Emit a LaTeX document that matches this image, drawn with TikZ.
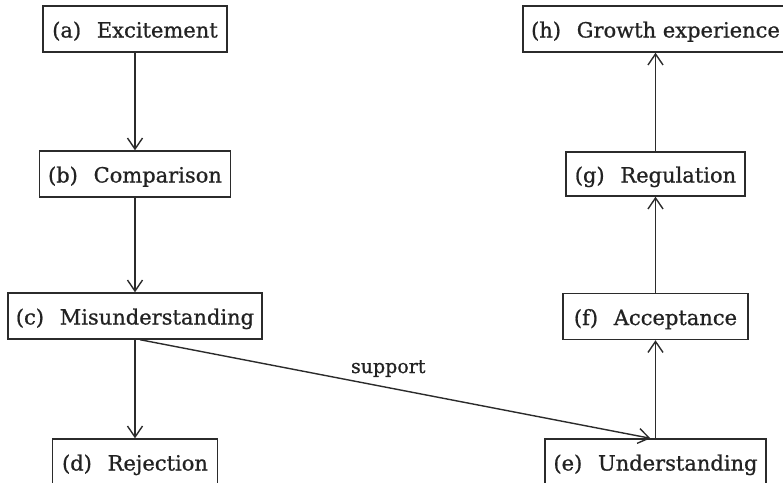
\documentclass[tikz,border=0pt]{standalone}
\usepackage{fontspec}
\setmainfont{DejaVu Serif}[BoldFont={DejaVu Serif}, BoldFeatures={FakeBold=0.8}]
\usetikzlibrary{arrows.meta}
\definecolor{linec}{HTML}{2B2B2B}
\definecolor{textc}{HTML}{222222}
\newcommand{\lab}[2]{(#1)\hspace{0.75em}#2}
\begin{document}
\begin{tikzpicture}[x=1pt,y=-1pt,
  box/.style={draw=linec, line width=1.4pt, minimum height=46pt, inner sep=0pt,
    text height=17pt, text depth=0pt, text=textc,
    font=\fontsize{21}{24}\selectfont\bfseries},
  arr/.style={draw=linec, line width=1.4pt,
    -{Straight Barb[length=11pt,width=15pt]}},
  lbl/.style={text=textc, font=\fontsize{19}{22}\selectfont\bfseries, inner sep=0pt}]
\useasboundingbox (0,0) rectangle (783,482);
\clip (0,0) rectangle (783,482);
\node[box, minimum width=184pt] (a) at (135,29) {\lab{a}{Excitement}};
\node[box, minimum width=191pt] (b) at (135,174) {\lab{b}{Comparison}};
\node[box, minimum width=254pt] (c) at (135,316) {\lab{c}{Misunderstanding}};
\node[box, minimum width=165pt] (d) at (135,462) {\lab{d}{Rejection}};
\node[box, minimum width=221pt] (e) at (655.5,462) {\lab{e}{Understanding}};
\node[box, minimum width=185pt] (f) at (655.5,316.5) {\lab{f}{Acceptance}};
\node[box, minimum width=179pt, minimum height=44pt] (g) at (655.5,174) {\lab{g}{Regulation}};
\node[box, minimum width=265pt] (h) at (655.5,29) {\lab{h}{Growth experience}};
\draw[arr] (a.south) -- (b.north);
\draw[arr] (b.south) -- (c.north);
\draw[arr] (c.south) -- (d.north);
\draw[arr] ([xshift=5pt]c.south) -- node[lbl, midway, anchor=base, xshift=-7pt, yshift=16pt] (s) {support} ([xshift=-5pt]e.north);
\draw[arr] (e.north) -- (f.south);
\draw[arr] (f.north) -- (g.south);
\draw[arr] (g.north) -- (h.south);
\end{tikzpicture}
\end{document}
